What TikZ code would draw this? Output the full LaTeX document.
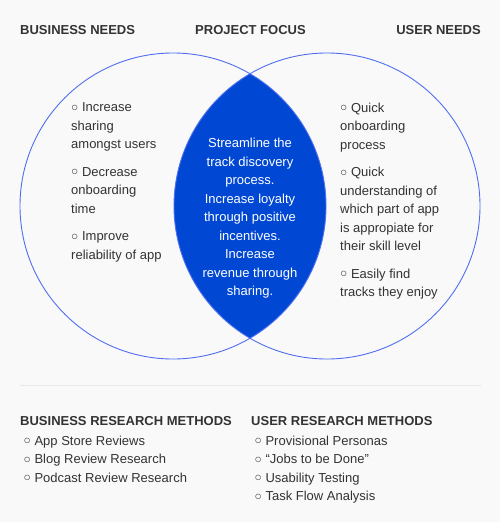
\documentclass[tikz,border=0pt]{standalone}
\usepackage{fontspec}
\setmainfont{Liberation Sans}
\usepackage{tikz}

\definecolor{bgcol}{RGB}{249,249,249}
\definecolor{txtcol}{RGB}{51,51,51}
\definecolor{lensblue}{RGB}{0,72,212}
\definecolor{ringblue}{RGB}{80,110,240}
\definecolor{rulecol}{RGB}{232,232,232}

\newcommand{\ringbul}{\raisebox{0.7pt}{\fontsize{12}{12}\selectfont ○}~}

\begin{document}
\begin{tikzpicture}[x=1pt, y=-1pt,
  ring/.style={draw=ringblue, line width=0.9pt},
  head/.style={font=\fontsize{13}{18.5}\selectfont\bfseries, text=txtcol, inner sep=0pt},
  body/.style={font=\fontsize{13}{18.5}\selectfont, text=txtcol, inner sep=0pt, align=left, anchor=north west},
  focus/.style={font=\fontsize{13}{18.5}\selectfont, text=white, inner sep=0pt, align=center, anchor=north}]
  \fill[bgcol] (0,0) rectangle (500,522);
  \useasboundingbox (0,0) rectangle (500,522);

  \coordinate (lc) at (173,206);
  \coordinate (rc) at (327,206);

  % the overlap gets filled first
  \begin{scope}
    \clip (lc) circle (153);
    \fill[lensblue] (rc) circle (153);
  \end{scope}
  \draw[ring] (lc) circle (153);
  \draw[ring] (rc) circle (153);

  \node[head, anchor=base west] (bneeds) at (20,34) {BUSINESS NEEDS};
  \node[head, anchor=base] (pfocus) at (250.5,34) {PROJECT FOCUS};
  \node[head, anchor=base east] (uneeds) at (481,34) {USER NEEDS};

  \node[body] (blist) at (71,102.6)
    {\ringbul Increase\\sharing\\amongst users\\[9pt]\ringbul Decrease\\onboarding\\time\\[9pt]\ringbul Improve\\reliability of app};
  \node[focus] (ftext) at (250,138.1)
    {Streamline the\\track discovery\\process.\\Increase loyalty\\through positive\\incentives.\\Increase\\revenue through\\sharing.};
  \node[body] (ulist) at (340,102.8)
    {\ringbul Quick\\onboarding\\process\\[9pt]\ringbul Quick\\understanding of\\which part of app\\is appropiate for\\their skill level\\[9pt]\ringbul Easily find\\tracks they enjoy};

  \coordinate (rl) at (20,385.5);
  \coordinate (rr) at (480.5,385.5);
  \draw[rulecol, line width=1.5pt] (rl) -- (rr);

  \node[head, anchor=base west] (bmeth) at (20,425) {BUSINESS RESEARCH METHODS};
  \node[body] (bmlist) at (23.5,435.6)
    {\ringbul App Store Reviews\\\ringbul Blog Review Research\\\ringbul Podcast Review Research};
  \node[head, anchor=base west] (umeth) at (251,425) {USER RESEARCH METHODS};
  \node[body] (umlist) at (254.5,435.6)
    {\ringbul Provisional Personas\\\ringbul “Jobs to be Done”\\\ringbul Usability Testing\\\ringbul Task Flow Analysis};
\end{tikzpicture}
\end{document}
